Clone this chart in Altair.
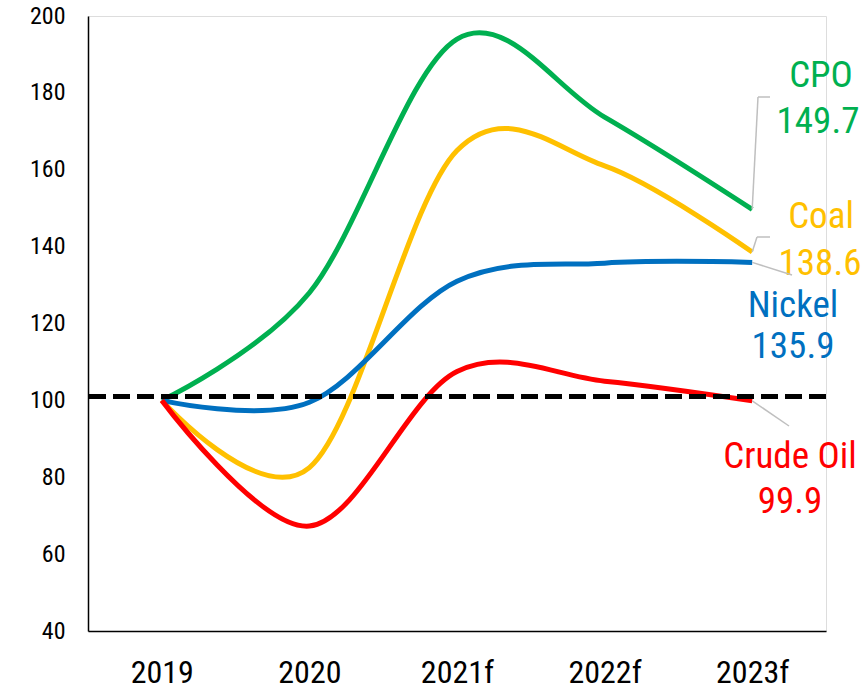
import altair as alt
import pandas as pd

years = ["2019", "2020", "2021f", "2022f", "2023f"]
series = ["CPO", "Coal", "Nickel", "Crude Oil"]
cpo = [100, 128, 194, 173.7, 149.7]
coal = [100, 82.5, 165, 161, 138.6]
nickel = [100, 99.5, 131, 135.7, 135.9]
crude = [100, 67.3, 107.5, 105, 99.9]
baseline = [101]
y_ticks = [40, 60, 80, 100, 120, 140, 160, 180, 200]

colors = ["#00B050", "#FFC000", "#0070C0", "#FF0000"]
FONT = "Liberation Sans Narrow, Arial Narrow, Roboto Condensed, Liberation Sans, sans-serif"

rows = []
for name, vals in zip(series, [cpo, coal, nickel, crude]):
    for i, v in enumerate(vals):
        rows.append({"series": name, "idx": i, "year": years[i], "value": v})
df = pd.DataFrame(rows)
end_df = df[df["idx"] == len(years) - 1].copy()
end_df["label"] = end_df["value"].map(lambda v: f"{v:.1f}")

W, H = 738, 615
xscale = alt.Scale(domain=[-0.5, len(years) - 0.5], nice=False, zero=False)
yscale = alt.Scale(domain=[40, 200], nice=False, zero=False)
label_expr = "[" + ",".join(f"'{y}'" for y in years) + "][datum.value]"

X = alt.X("idx:Q", scale=xscale, axis=alt.Axis(
    values=list(range(len(years))), labelExpr=label_expr, title=None, ticks=False,
    grid=False, labelFontSize=32, labelFont=FONT, labelColor="black",
    domainColor="black", domainWidth=1.5, labelPadding=26, labelFlush=False))
Y = alt.Y("value:Q", scale=yscale, axis=alt.Axis(
    values=y_ticks, title=None, ticks=False, grid=False, labelFontSize=24,
    labelFont=FONT, labelColor="black", domainColor="black", domainWidth=1.5,
    labelPadding=23))

lines = alt.Chart(df).mark_line(interpolate="cardinal", strokeWidth=5).encode(
    x=X, y=Y,
    color=alt.Color("series:N", scale=alt.Scale(domain=series, range=colors), legend=None),
    detail="series:N",
)

ref = alt.Chart(pd.DataFrame({"value": baseline})).mark_rule(
    strokeDash=[17, 7], strokeWidth=5, color="black"
).encode(y=Y)

# label layout (pixel positions in plot area) — styling, not data
label_pos = {
    "CPO": [(733, 71), (730, 117)],
    "Coal": [(733, 212), (732, 259)],
    "Nickel": [(705, 301), (705, 342)],
    "Crude Oil": [(702, 452), (702, 497)],
}
leader_pos = {
    "CPO": [(670, 81), (682, 81)],
    "Coal": [(669, 221), (682, 221)],
    "Nickel": [(704, 259)],
    "Crude Oil": [(701, 410)],
}

layers = [lines, ref]
for name, color in zip(series, colors):
    sub = end_df[end_df["series"] == name]
    pts = leader_pos[name]
    layers.append(alt.Chart(sub).mark_rule(color="#BFBFBF", strokeWidth=1.5).encode(
        x=X, y=Y, x2=alt.value(pts[0][0]), y2=alt.value(pts[0][1])))
    if len(pts) > 1:
        layers.append(alt.Chart(sub).mark_rule(color="#BFBFBF", strokeWidth=1.5).encode(
            x=alt.value(pts[0][0]), y=alt.value(pts[0][1]),
            x2=alt.value(pts[1][0]), y2=alt.value(pts[1][1])))
    (nx, ny), (vx, vy) = label_pos[name]
    layers.append(alt.Chart(sub).mark_text(
        font=FONT, fontSize=37, color=color, align="center", baseline="alphabetic"
    ).encode(x=alt.value(nx), y=alt.value(ny), text="series:N"))
    layers.append(alt.Chart(sub).mark_text(
        font=FONT, fontSize=37, color=color, align="center", baseline="alphabetic"
    ).encode(x=alt.value(vx), y=alt.value(vy), text="label:N"))

chart = alt.layer(*layers).properties(
    width=W, height=H,
    autosize=alt.AutoSizeParams(type="none"),
    padding={"left": 88, "top": 16, "right": 40, "bottom": 58},
).configure_view(stroke=None).configure(background="white")

chart.save("out.html", embed_options={"renderer": "svg", "actions": False})
